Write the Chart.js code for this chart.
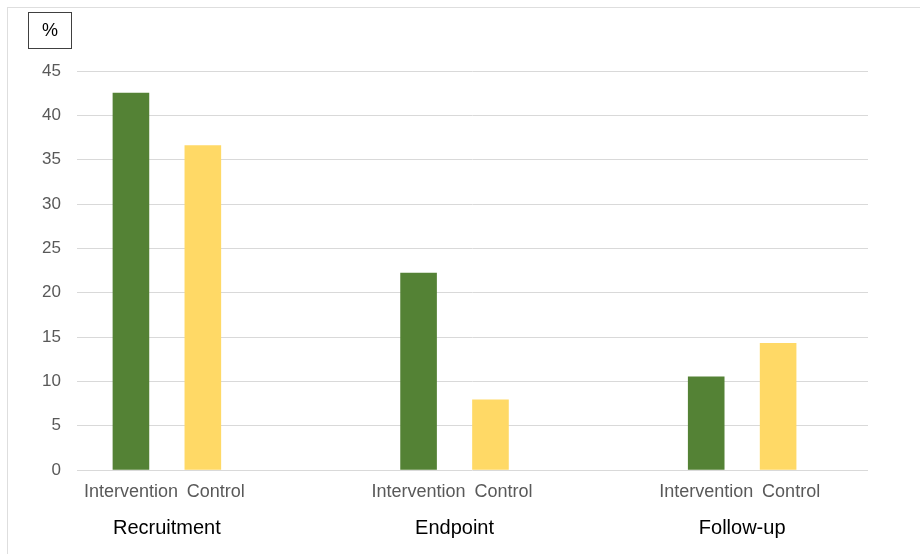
<!DOCTYPE html>
<html>
<head>
<meta charset="utf-8">
<script src="https://cdn.jsdelivr.net/npm/chart.js@4/dist/chart.umd.min.js"></script>
<style>
  body { margin: 0; background: #fff; }
  #wrap { position: relative; width: 920px; height: 554px; }
  #frame {
    position: absolute; left: 7px; top: 7px; right: 0; bottom: 0;
    border-top: 1px solid #dedede; border-left: 1px solid #dedede;
  }
  #unit {
    position: absolute; left: 28px; top: 12px; width: 42px; height: 35px;
    border: 1px solid #404040; font: 18px "Liberation Sans", Arial, sans-serif;
    color: #000; text-align: center; line-height: 35px;
  }
  canvas { position: absolute; left: 0; top: 0; }
</style>
</head>
<body>
<div id="wrap">
  <div id="frame"></div>
  <canvas id="main_chart" width="920" height="554"></canvas>
  <div id="unit">%</div>
</div>
<script>
const groups = ['Recruitment', 'Endpoint', 'Follow-up'];
const armLabels = ['Intervention', 'Control'];
const interventionValues = [42.5, 22.2, 10.5];
const controlValues = [36.6, 7.9, 14.3];
const yTicks = [0, 5, 10, 15, 20, 25, 30, 35, 40, 45];

// each group takes 8 narrow slots: bar, gap, bar, then empty space
const slotCount = 22;
const slotsPerGroup = 8;

const emptyLabels = new Array(slotCount).fill('');
const groupSlotLabels = new Array(slotCount).fill('');
const interventionSlots = new Array(slotCount).fill(null);
const controlSlots = new Array(slotCount).fill(null);
const armSlots = [];

groups.forEach((name, i) => {
  const start = i * slotsPerGroup;
  groupSlotLabels[start + 2] = name;
  interventionSlots[start + 1] = interventionValues[i];
  controlSlots[start + 3] = controlValues[i];
  armSlots.push([start + 1, start + 3]);
});

const font = '"Liberation Sans", Arial, sans-serif';

// arm labels sit under each bar; Control starts at its bar's left edge like in Excel
const armLabelPlugin = {
  id: 'armLabels',
  afterDraw(chart) {
    const x = chart.scales.x;
    const ctx = chart.ctx;
    ctx.save();
    ctx.font = `18px ${font}`;
    ctx.fillStyle = '#595959';
    ctx.textBaseline = 'top';
    const y = x.top + 13;
    armSlots.forEach(([iSlot, cSlot]) => {
      ctx.textAlign = 'center';
      ctx.fillText(armLabels[0], x.getPixelForValue(iSlot), y);
      ctx.textAlign = 'left';
      ctx.fillText(armLabels[1], x.getPixelForValue(cSlot) - 16, y);
    });
    ctx.restore();
  }
};

new Chart(document.getElementById('main_chart'), {
  type: 'bar',
  data: {
    labels: emptyLabels,
    datasets: [{
      label: armLabels[0],
      data: interventionSlots,
      backgroundColor: '#548235',
      grouped: false,
      barPercentage: 1,
      categoryPercentage: 1,
    }, {
      label: armLabels[1],
      data: controlSlots,
      backgroundColor: '#FFD966',
      grouped: false,
      barPercentage: 1,
      categoryPercentage: 1,
    }]
  },
  plugins: [armLabelPlugin],
  options: {
    responsive: false,
    animation: false,
    layout: {
      padding: { top: 71, right: 52, bottom: 8, left: 0 }
    },
    plugins: {
      legend: false,
      tooltip: { enabled: false }
    },
    scales: {
      x: {
        grid: { display: false, drawTicks: false },
        border: { display: false },
        ticks: { display: false },
        afterFit: (scale) => { scale.height = 36; }
      },
      x2: {
        type: 'category',
        position: 'bottom',
        labels: groupSlotLabels,
        grid: { display: false, drawTicks: false },
        border: { display: false },
        ticks: {
          autoSkip: false,
          maxRotation: 0,
          minRotation: 0,
          padding: 10,
          color: '#000',
          font: { family: font, size: 20 }
        },
        afterFit: (scale) => { scale.height = 40; }
      },
      y: {
        min: 0,
        max: 45,
        afterBuildTicks: (scale) => {
          scale.ticks = yTicks.map(v => ({ value: v }));
        },
        grid: { color: '#d9d9d9', lineWidth: 1, drawTicks: false },
        border: { display: false },
        ticks: {
          padding: 16,
          color: '#595959',
          font: { family: font, size: 17 }
        },
        afterFit: (scale) => { scale.width = 77; }
      }
    }
  }
});
</script>
</body>
</html>
